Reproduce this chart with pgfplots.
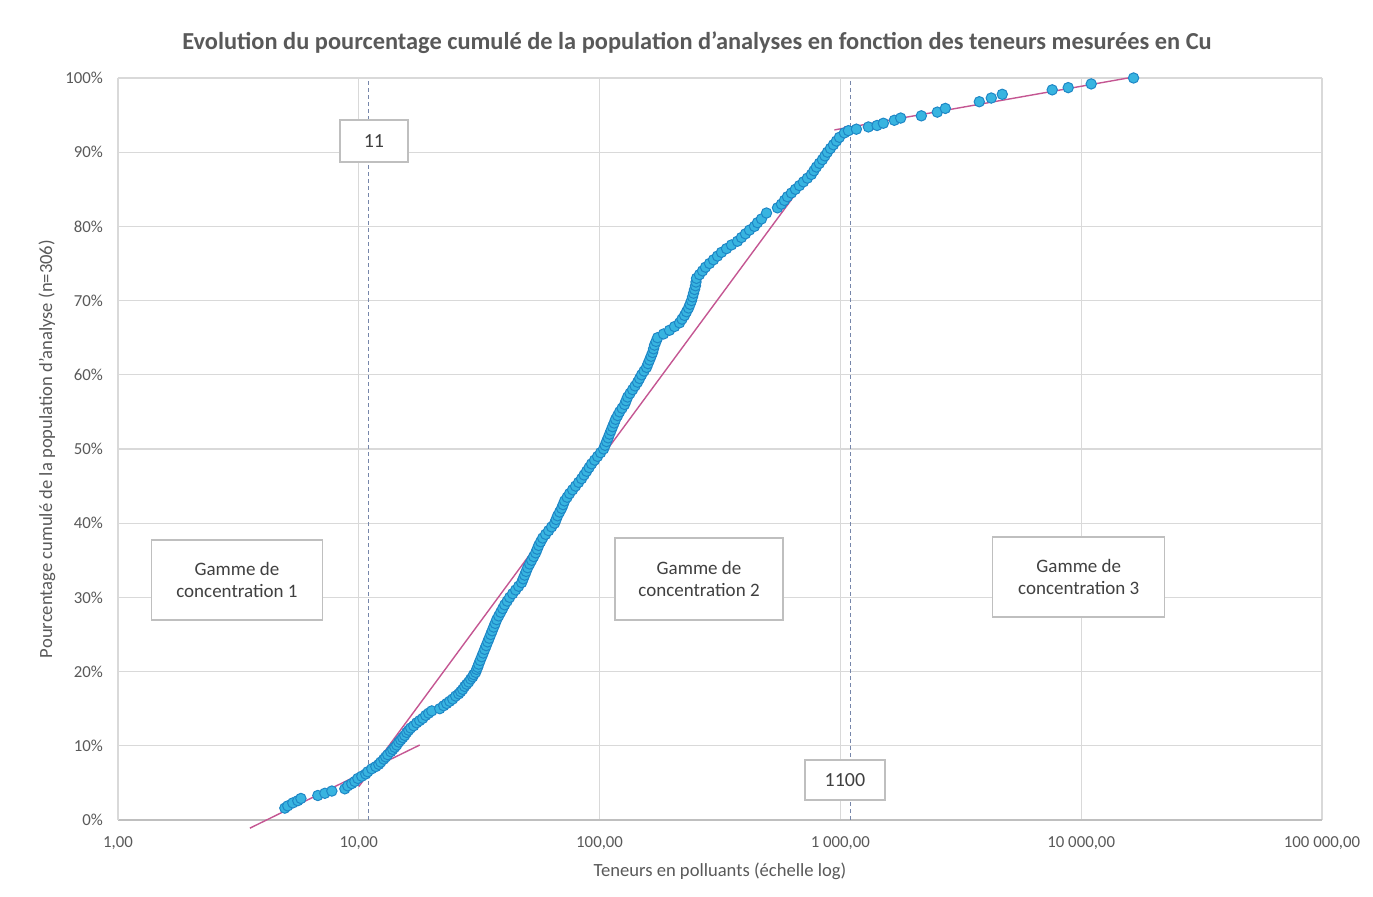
\documentclass[border=0pt]{standalone}
\usepackage{pgfplots}
\usepackage{pgfplotstable}
\pgfplotsset{compat=1.18}
\usepackage{fontspec}
\setmainfont{Carlito}

\definecolor{gridgray}{RGB}{217,217,217}
\definecolor{axisgray}{RGB}{191,191,191}
\definecolor{txtgray}{RGB}{89,89,89}
\definecolor{boxtxt}{RGB}{64,64,64}
\definecolor{markfill}{RGB}{56,180,224}
\definecolor{markline}{RGB}{30,135,198}
\definecolor{trend}{RGB}{196,86,146}
\definecolor{guide}{RGB}{118,134,170}

% Cumulative share of the analyses (%) against the measured Cu content
\pgfplotstableread{
x y
4.93 1.6
5.07 1.9
5.32 2.3
5.58 2.6
5.75 2.9
6.76 3.3
7.23 3.6
7.73 3.9
8.75 4.2
9.00 4.6
9.35 4.9
9.63 5.2
9.91 5.6
10.29 5.9
10.69 6.2
10.90 6.5
11.32 6.9
11.77 7.2
12.11 7.5
12.34 7.8
12.70 8.2
12.94 8.5
13.19 8.8
13.58 9.2
13.84 9.5
14.11 9.8
14.38 10.1
14.66 10.5
14.94 10.8
15.23 11.1
15.52 11.4
15.82 11.8
16.12 12.1
16.43 12.4
16.91 12.7
17.40 13.1
17.91 13.4
18.44 13.7
18.97 14.1
19.52 14.4
20.10 14.7
21.68 15.0
22.53 15.4
23.18 15.7
23.86 16.0
24.55 16.3
25.26 16.7
26.00 17.0
26.50 17.3
27.01 17.6
27.53 18.0
28.06 18.3
28.61 18.6
29.16 19.0
29.72 19.3
30.00 19.6
30.58 19.9
30.87 20.3
31.17 20.6
31.47 21.0
31.92 21.5
32.39 22.0
32.86 22.5
33.33 23.0
33.81 23.5
34.30 24.0
34.80 24.5
35.30 25.0
35.81 25.5
36.33 26.0
36.86 26.5
37.39 27.0
38.10 27.5
38.85 28.0
39.59 28.5
40.35 29.0
41.33 29.5
42.32 30.0
43.55 30.5
44.82 31.0
46.12 31.5
47.47 32.0
48.15 32.5
48.85 33.0
49.55 33.5
50.27 34.0
51.24 34.5
52.23 35.0
53.24 35.5
54.27 36.0
55.06 36.5
55.85 37.0
56.93 37.5
58.03 38.0
59.70 38.5
61.44 39.0
63.22 39.5
65.06 40.0
65.99 40.5
66.94 41.0
68.23 41.5
69.55 42.0
70.56 42.5
71.57 43.0
73.31 43.5
75.07 44.0
77.27 44.5
79.50 45.0
81.82 45.5
84.19 46.0
86.23 46.5
88.33 47.0
90.45 47.5
92.64 48.0
95.35 48.5
98.1 49.0
100.95 49.5
103.9 50.0
105.4 50.5
106.9 51.0
108.5 51.5
110.0 52.0
111.6 52.5
113.2 53.0
114.9 53.5
116.5 54.0
118.8 54.5
121.1 55.0
124.0 55.5
127.0 56.0
128.8 56.5
130.7 57.0
133.8 57.5
137.1 58.0
140.4 58.5
143.8 59.0
146.6 59.5
149.4 60.0
153.0 60.5
156.7 61.0
158.9 61.5
161.3 62.0
163.6 62.5
166.0 63.0
167.5 63.5
169.1 64.0
171.6 64.5
174.1 65.0
184.3 65.5
195.2 66.0
204.8 66.5
214.8 67.0
219.9 67.5
225.3 68.0
229.6 68.5
234.1 69.0
237.4 69.5
240.8 70.0
243.2 70.5
245.5 71.0
247.9 71.5
250.2 72.0
251.4 72.5
252.6 73.0
259.9 73.5
267.6 74.0
275.3 74.5
286.1 75.0
297.2 75.5
308.8 76.0
320.8 76.5
336.5 77.0
353.0 77.5
373.9 78.0
388.4 78.5
403.5 79.0
419.4 79.5
439.8 80.0
452.5 80.5
470.1 81.0
493.3 81.8
547.9 82.5
569.1 83.0
585.7 83.5
602.7 84.0
626.1 84.5
650.6 85.0
676.1 85.5
702.3 86.0
729.7 86.5
758.1 87.0
776.3 87.5
795.0 88.0
818.1 88.5
842.0 89.0
862.6 89.5
883.3 90.0
908.9 90.5
935.4 91.0
962.5 91.5
990.6 92.0
1039 92.6
1080 92.9
1165 93.1
1307 93.4
1420 93.6
1508 93.9
1675 94.3
1780 94.6
2168 94.9
2526 95.4
2727 95.9
3775 96.8
4232 97.3
4701 97.8
7581 98.4
8833 98.7
11004 99.2
16500 100.0
}\cudata

\begin{document}
\begin{tikzpicture}
\useasboundingbox (-59pt,-38.5pt) rectangle (627.5pt,410pt);
\begin{axis}[
  at={(0,0)}, anchor=south west,
  width=602pt, height=371pt, scale only axis,
  xmode=log, log basis x=10,
  xmin=1, xmax=100000, ymin=0, ymax=100,
  xtick={1,10,100,1000,10000,100000},
  xticklabels={{1,00},{10,00},{100,00},{1 000,00},{10 000,00},{100 000,00}},
  ytick={0,10,...,100},
  yticklabels={0\%,10\%,20\%,30\%,40\%,50\%,60\%,70\%,80\%,90\%,100\%},
  minor xtick={}, major tick length=0pt, minor tick length=0pt,
  grid=major, grid style={gridgray, line width=0.6pt},
  axis x line*=bottom, axis y line*=left,
  x axis line style={axisgray, line width=0.6pt, -},
  y axis line style={gridgray, line width=0.6pt, -},
  tick label style={font=\fontsize{8.4}{9}\selectfont, text=txtgray},
  xticklabel style={yshift=-5pt},
  yticklabel style={xshift=-4pt},
  xlabel={Teneurs en polluants (échelle log)},
  ylabel={Pourcentage cumulé de la population d'analyse (n=306)},
  label style={font=\fontsize{9.3}{10}\selectfont, text=txtgray},
  xlabel style={at={(axis description cs:0.5,0)}, anchor=center, yshift=-25.5pt},
  ylabel style={at={(axis description cs:0,0.5)}, anchor=center, rotate=0, yshift=35.5pt},
  clip=false,
]
% threshold guides
\addplot[guide, line width=0.6pt, dash pattern=on 2pt off 1.5pt] coordinates {(11,0) (11,100)};
\addplot[guide, line width=0.6pt, dash pattern=on 2pt off 1.5pt] coordinates {(1100,0) (1100,100)};

% measured contents
\addplot[only marks, mark=*, mark size=2.6pt,
  mark options={fill=markfill, draw=markline, line width=0.5pt}] table[x=x, y=y] {\cudata};

% one log-linear fit per concentration range
\addplot[trend, line width=0.7pt] coordinates {(3.53,-1.1) (17.9,10.1)};
\addplot[trend, line width=0.7pt] coordinates {(10,4.5) (1050,93.5)};
\addplot[trend, line width=0.7pt] coordinates {(944,93.0) (16300,100.1)};

% annotations
\tikzset{lbl/.style={draw=axisgray, fill=white, line width=0.6pt, text=boxtxt,
  font=\fontsize{9.5}{11}\selectfont, align=center, inner sep=0pt}}
\node[lbl, minimum width=34pt, minimum height=21pt, font=\fontsize{10}{12}\selectfont]
  at (rel axis cs:0.2126,0.915) {11};
\node[lbl, minimum width=40pt, minimum height=20pt, font=\fontsize{10}{12}\selectfont]
  at (rel axis cs:0.6038,0.0539) {1100};
\node[lbl, minimum width=85.5pt, minimum height=40pt] at (rel axis cs:0.0988,0.3235)
  {Gamme de\\concentration 1};
\node[lbl, minimum width=84pt, minimum height=41pt] at (rel axis cs:0.4826,0.3248)
  {Gamme de\\concentration 2};
\node[lbl, minimum width=86pt, minimum height=40pt] at (rel axis cs:0.798,0.3275)
  {Gamme de\\concentration 3};
\end{axis}
\node[font=\bfseries\fontsize{12.2}{14}\selectfont, text=txtgray] at (289.5pt,388.5pt)
  {Evolution du pourcentage cumulé de la population d'analyses en fonction des teneurs mesurées en Cu};
\end{tikzpicture}
\end{document}
